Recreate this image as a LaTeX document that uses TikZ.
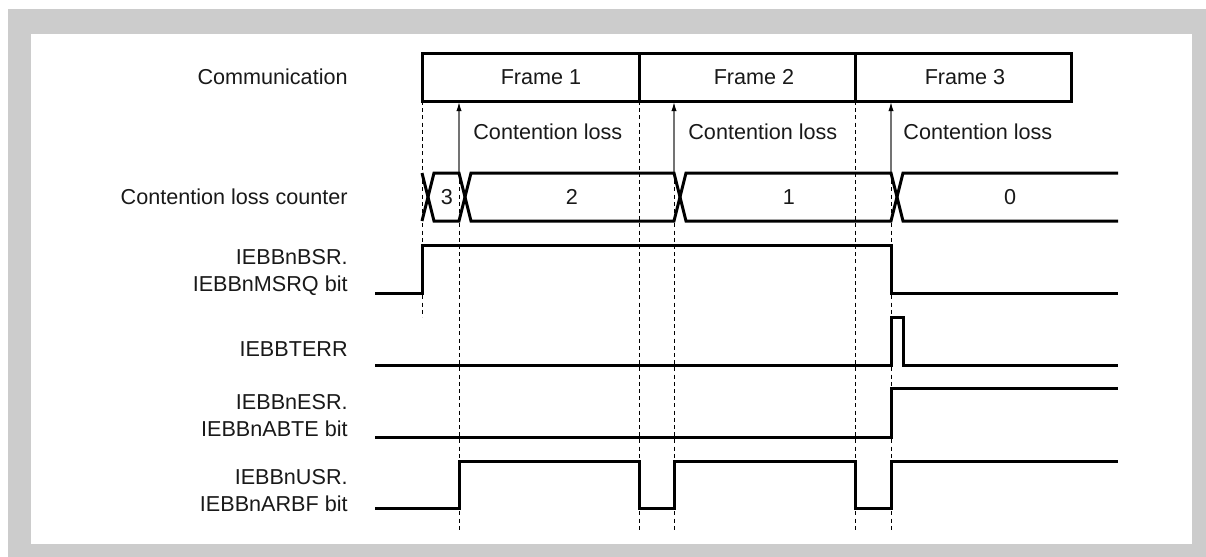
\documentclass[tikz,border=0pt]{standalone}
\usepackage{fontspec}
\setmainfont{Liberation Sans}
\usetikzlibrary{arrows.meta}
\begin{document}
\begin{tikzpicture}[x=0.5pt,y=-0.5pt,
    signal/.style={line width=1.5pt,line join=miter},
    guide/.style={line width=0.5pt,dash pattern=on 2pt off 1.6pt},
    loss/.style={black!55,line width=0.6pt,-{Latex[length=4.5pt,width=2.6pt,black]}},
    lbl/.style={anchor=east,align=right,inner sep=0pt},
    every node/.style={font=\fontsize{10.8}{13.5}\selectfont,text=black!90}]

    \useasboundingbox (0,0) rectangle (1206,557);
    \fill [gray!40] (8,9) rectangle (1206,557);
    \fill [white] (31,34) rectangle (1192,544);

    % signal names
    \node [lbl] (commlbl) at (348,77) {Communication};
    \node [lbl] (cntlbl) at (348,197) {Contention loss counter};
    \node [lbl] (msrqlbl) at (348,272) {IEBBnBSR.\\IEBBnMSRQ bit};
    \node [lbl] (terrlbl) at (348,349) {IEBBTERR};
    \node [lbl] (abtelbl) at (348,416) {IEBBnESR.\\IEBBnABTE bit};
    \node [lbl] (arbflbl) at (348,491) {IEBBnUSR.\\IEBBnARBF bit};

    % frames
    \draw [signal]
        (422,53) rectangle (1071,101)
        (639,53) -- (639,101)
        (855,53) -- (855,101)
        ;
    \node (frame1) at (541,77) {Frame 1};
    \node (frame2) at (754,77) {Frame 2};
    \node (frame3) at (965,77) {Frame 3};

    % guide lines
    \draw [guide]
        (422,101) -- (422,317)
        (459,173) -- (459,531)
        (639,101) -- (639,531)
        (674,173) -- (674,531)
        (855,101) -- (855,531)
        (891,173) -- (891,531)
        ;

    % contention loss
    \coordinate (lossbase1) at (459,172);
    \coordinate (losstip1) at (459,102);
    \coordinate (lossbase2) at (674,172);
    \coordinate (losstip2) at (674,102);
    \coordinate (lossbase3) at (891,172);
    \coordinate (losstip3) at (891,102);
    \draw [loss] (lossbase1) -- (losstip1);
    \draw [loss] (lossbase2) -- (losstip2);
    \draw [loss] (lossbase3) -- (losstip3);
    \node [anchor=west,inner sep=0pt] (loss1) at (473,132) {Contention loss};
    \node [anchor=west,inner sep=0pt] (loss2) at (688,132) {Contention loss};
    \node [anchor=west,inner sep=0pt] (loss3) at (903,132) {Contention loss};

    % counter
    \draw [signal]
        (422,221) -- (434,173) -- (459,173) -- (471,221)
        -- (674,221) -- (686,173) -- (891,173) -- (903,221)
        -- (1118,221)
        ;
    \draw [signal]
        (422,173) -- (434,221) -- (459,221) -- (471,173)
        -- (674,173) -- (686,221) -- (891,221) -- (903,173)
        -- (1118,173)
        ;
    \node (cnt3) at (447,197) {3};
    \node (cnt2) at (572,197) {2};
    \node (cnt1) at (789,197) {1};
    \node (cnt0) at (1010,197) {0};

    % MSRQ
    \draw [signal]
        (375,293) -- (422,293) -- (422,245) -- (891,245)
        -- (891,293) -- (1118,293)
        ;

    % TERR
    \draw [signal]
        (375,365) -- (891,365) -- (891,317) -- (903,317)
        -- (903,365) -- (1118,365)
        ;

    % ABTE
    \draw [signal]
        (375,437) -- (891,437) -- (891,388) -- (1118,388)
        ;

    % ARBF
    \draw [signal]
        (375,508) -- (459,508) -- (459,461) -- (639,461)
        -- (639,508) -- (674,508) -- (674,461) -- (855,461)
        -- (855,508) -- (891,508) -- (891,461) -- (1118,461)
        ;
\end{tikzpicture}
\end{document}
